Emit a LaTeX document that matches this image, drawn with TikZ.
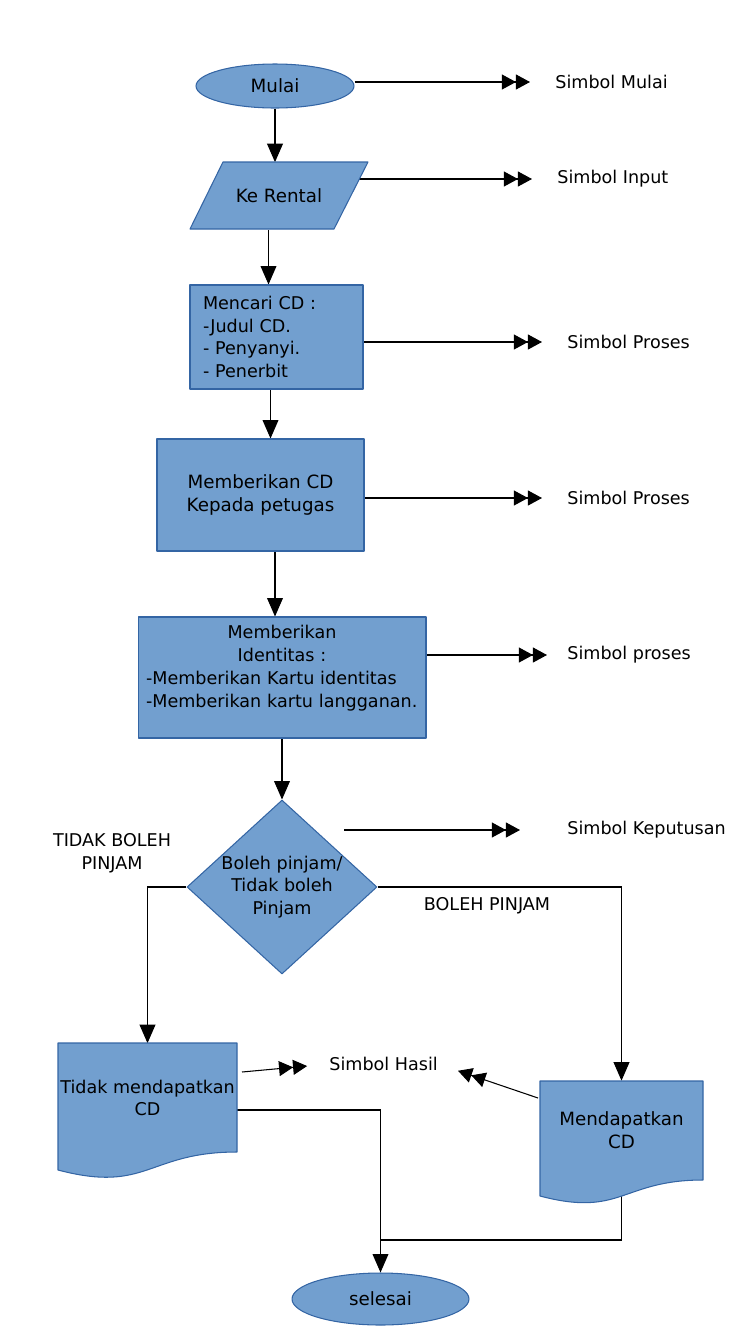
\documentclass[tikz,border=0pt]{standalone}
\usepackage{fontspec}
\setmainfont{DejaVu Sans}
\usetikzlibrary{arrows.meta,shapes.geometric,calc}
\pgfdeclarelayer{bawah}
\pgfsetlayers{bawah,main}
\definecolor{isi}{HTML}{729FCF}
\definecolor{tepi}{HTML}{3465A4}
\tikzset{
	simbol/.style={fill=isi,draw=tepi,line width=0.6pt},
	teks/.style={font=\fontsize{10}{13}\selectfont,align=center,inner sep=0pt},
	besar/.style={font=\fontsize{10.4}{13}\selectfont},
	alur/.style={-{Triangle[length=10.5pt,width=9pt]},line width=0.6pt},
	tunjuk/.style={-{Triangle[length=8pt,width=8.5pt]Triangle[length=8pt,width=8.5pt]},line width=0.6pt,shorten >=0.5cm},
}
\begin{document}
\begin{tikzpicture}[x=0.02cm,y=-0.02cm,line join=round]
	\useasboundingbox (0,0) rectangle (754,1326);
	% simbol-simbol bagan alir
	\node[teks,besar,simbol,ellipse,minimum width=3.16cm,minimum height=0.88cm] (mulai) at (275,86) {Mulai};
	\draw[simbol] (223,162)--(368,162)--(334,229)--(190,229)--cycle;
	\node[teks,besar,minimum width=2.9cm,minimum height=1.34cm] (rental) at (279,196) {Ke Rental};
	\node[teks,simbol,align=left,minimum width=3.46cm,minimum height=2.08cm,text width=2.94cm] (mencari) at (276.5,337) {Mencari CD :\\-Judul CD.\\- Penyanyi.\\- Penerbit};
	\node[teks,besar,simbol,minimum width=4.14cm,minimum height=2.24cm] (memberi) at (260.5,495) {Memberikan CD\\Kepada petugas};
	\node[teks,simbol,align=left,minimum width=5.76cm,minimum height=2.42cm,text width=5.44cm] (identitas) at (282,677.5) {\makebox[\linewidth]{Memberikan}\\\makebox[\linewidth]{Identitas :}\\-Memberikan Kartu identitas\\-Memberikan kartu langganan.\\\mbox{}};
	\node[simbol,diamond,inner sep=0pt,minimum width=3.8cm,minimum height=3.48cm] (putus) at (282,887) {};
	\node[teks] (putusteks) at (putus.center) {Boleh pinjam/\\Tidak boleh\\Pinjam};
	\draw[simbol] (58,1043)--(237,1043)--(237,1152) .. controls (147.5,1152) and (147.5,1193.6) .. (58,1170)--cycle;
	\node[teks,minimum width=3.58cm,minimum height=2.18cm] (tidak) at (147.5,1098) {Tidak mendapatkan\\CD};
	\draw[simbol] (540,1081)--(703,1081)--(703,1180) .. controls (621.5,1180) and (621.5,1217.6) .. (540,1196)--cycle;
	\node[teks,besar,minimum width=3.26cm,minimum height=1.98cm] (dapat) at (621.5,1130.5) {Mendapatkan\\CD};
	\node[teks,besar,simbol,ellipse,minimum width=3.54cm,minimum height=1.04cm] (selesai) at (380.5,1299) {selesai};
	% keterangan
	\node[teks,anchor=west] (lmulai) at (555,82) {Simbol Mulai};
	\node[teks,anchor=west] (linput) at (557,179) {Simbol Input};
	\node[teks,anchor=west] (lproses) at (567,342) {Simbol Proses};
	\node[teks,anchor=west] (lprosesb) at (567,498) {Simbol Proses};
	\node[teks,anchor=west] (lprosesc) at (567,655) {Simbol proses};
	\node[teks,anchor=west] (lputus) at (567,830) {Simbol Keputusan};
	\node[teks,anchor=west] (lhasil) at (329,1064) {Simbol Hasil};
	\node[teks] (ltidak) at (112,853.5) {TIDAK BOLEH\\PINJAM};
	\node[teks] (lboleh) at (487,906) {BOLEH PINJAM};
	\coordinate (awalputus) at (344,830);
	\coordinate (hasilkiri) at (242,1072);
	\coordinate (hasilkanan) at (538,1098);
	\coordinate (gabung) at (381,1240);
	\begin{pgfonlayer}{bawah}
		\draw[alur] (mulai.south) -- (mulai.south |- rental.north);
		\draw[alur] ([xshift=-0.16cm]mencari.north |- rental.south) -- ([xshift=-0.16cm]mencari.north);
		\draw[alur] ([xshift=-0.12cm]mencari.south) -- ([xshift=-0.12cm]mencari.south |- memberi.north);
		\draw[alur] ([xshift=-0.14cm]identitas.north |- memberi.south) -- ([xshift=-0.14cm]identitas.north);
		\draw[alur] (identitas.south) -- (putus.north);
		\draw[alur] (putus.west) -| (tidak.north);
		\draw[alur] (putus.east) -| (dapat.north);
		\draw[alur] ($(tidak.east)+(0,12)$) -| (selesai.north);
		\draw[line width=0.6pt] (dapat.south) |- (gabung);
		\draw[tunjuk] (mulai.east |- lmulai.west) -- (lmulai.west);
		\draw[tunjuk] (359.4,179) -- (linput.west);
		\draw[tunjuk] (mencari.east |- lproses.west) -- (lproses.west);
		\draw[tunjuk] (memberi.east |- lprosesb.west) -- (lprosesb.west);
		\draw[tunjuk,shorten >=0.4cm] (identitas.east |- lprosesc.west) -- (lprosesc.west);
		\draw[tunjuk,shorten >=0.94cm] (awalputus) -- (lputus.west);
		\draw[tunjuk,shorten >=0.44cm] (hasilkiri) -- (lhasil.west);
		\draw[tunjuk,shorten >=0.42cm] (hasilkanan) -- (lhasil.east);
	\end{pgfonlayer}
\end{tikzpicture}
\end{document}
